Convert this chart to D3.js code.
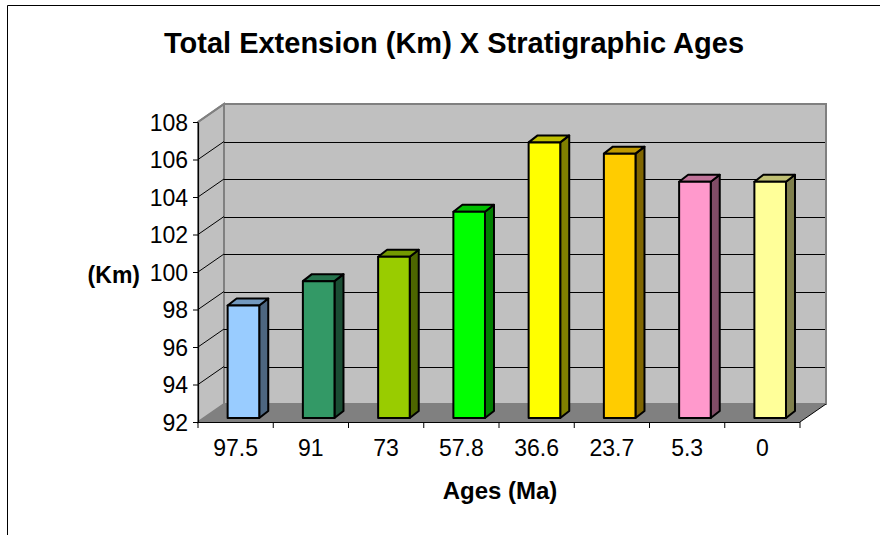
<!DOCTYPE html>
<html>
<head>
<meta charset="utf-8">
<script src="https://cdn.jsdelivr.net/npm/d3@7"></script>
<style>
  html, body { margin: 0; padding: 0; background: #fff; }
  svg { display: block; font-family: "Liberation Sans", Arial, sans-serif; }
</style>
</head>
<body>
<svg id="chart" width="880" height="535"></svg>
<script>
// Ages (Ma) along the category axis and the total extension (Km) for each
const ages = ["97.5", "91", "73", "57.8", "36.6", "23.7", "5.3", "0"];
const extensionKm = [98.0, 99.3, 100.6, 103.0, 106.7, 106.1, 104.6, 104.6];
const barColors = ["#99ccff", "#339966", "#99cc00", "#00ff00", "#ffff00", "#ffcc00", "#ff99cc", "#ffff99"];
const yTicks = [92, 94, 96, 98, 100, 102, 104, 106, 108];

const svg = d3.select("#chart");

// outer frame
svg.append("path")
  .attr("d", "M7.5,540 L7.5,5.5 L885,5.5")
  .attr("fill", "none").attr("stroke", "#000").attr("stroke-width", 1);

// front plane of the 3D box
const x0 = 198, x1 = 800;
const y = d3.scaleLinear().domain([92, 108]).range([422, 122]);
const x = d3.scaleBand().domain(ages).range([x0, x1]).padding(0);
const depth = { dx: 26, dy: -18 };    // front -> back wall
const barPlane = { dx: 5.7, dy: -4 }; // front face of bars
const barDepth = { dx: 9, dy: -7 };

const g = svg.append("g");
const yb = y(92);

// side wall
g.append("polygon")
  .attr("points", [[x0, y(108)], [x0 + depth.dx, y(108) + depth.dy], [x0 + depth.dx, yb + depth.dy], [x0, yb]].join(" "))
  .attr("fill", "#c0c0c0").attr("stroke", "#808080").attr("stroke-width", 2);

// back wall
g.append("rect")
  .attr("x", x0 + depth.dx).attr("y", y(108) + depth.dy)
  .attr("width", x1 - x0).attr("height", y(92) - y(108))
  .attr("fill", "#c0c0c0").attr("stroke", "#808080").attr("stroke-width", 2);

// gridlines on back wall and side wall
const grid = yTicks.filter(t => t > 92 && t < 108);
g.selectAll("line.grid").data(grid).join("line")
  .attr("class", "grid")
  .attr("x1", x0 + depth.dx).attr("x2", x1 + depth.dx)
  .attr("y1", d => Math.round(y(d) + depth.dy) + 0.5).attr("y2", d => Math.round(y(d) + depth.dy) + 0.5)
  .attr("stroke", "#000").attr("stroke-width", 1);
g.selectAll("line.sgrid").data(yTicks.filter(t => t > 92)).join("line")
  .attr("class", "sgrid")
  .attr("x1", x0).attr("x2", x0 + depth.dx)
  .attr("y1", d => y(d)).attr("y2", d => y(d) + depth.dy)
  .attr("stroke", d => d === 108 ? "#808080" : "#000").attr("stroke-width", d => d === 108 ? 2 : 1);

// floor
g.append("polygon")
  .attr("points", [[x0, yb], [x1, yb], [x1 + depth.dx, yb + depth.dy], [x0 + depth.dx, yb + depth.dy]].join(" "))
  .attr("fill", "#808080");
g.append("line")
  .attr("x1", x1).attr("y1", yb).attr("x2", x1 + depth.dx).attr("y2", yb + depth.dy)
  .attr("stroke", "#000").attr("stroke-width", 1);
g.append("line")
  .attr("x1", x1 + depth.dx).attr("y1", yb + depth.dy).attr("x2", x1 + depth.dx).attr("y2", y(108) + depth.dy)
  .attr("stroke", "#808080").attr("stroke-width", 2);

// bars
const step = x.step();
const bars = g.selectAll("g.bar").data(ages.map((a, i) => ({ age: a, v: extensionKm[i], c: barColors[i] })))
  .join("g").attr("class", "bar");
bars.each(function (d) {
  const sel = d3.select(this);
  const L = x(d.age) + step * 0.318 + barPlane.dx;
  const R = L + step * 0.42;
  const B = y(92) + barPlane.dy;
  const T = y(d.v) + barPlane.dy;
  const c = d3.color(d.c);
  const side = d3.rgb(c.r * 0.5, c.g * 0.5, c.b * 0.5);
  const top = d3.rgb(c.r * 0.75, c.g * 0.75, c.b * 0.75);
  const common = s => s.attr("stroke", "#000").attr("stroke-width", 2).attr("stroke-linejoin", "round");
  common(sel.append("polygon")
    .attr("points", [[R, B], [R + barDepth.dx, B + barDepth.dy], [R + barDepth.dx, T + barDepth.dy], [R, T]].join(" "))
    .attr("fill", side));
  common(sel.append("polygon")
    .attr("points", [[L, T], [R, T], [R + barDepth.dx, T + barDepth.dy], [L + barDepth.dx, T + barDepth.dy]].join(" "))
    .attr("fill", top));
  common(sel.append("rect")
    .attr("x", L).attr("y", T).attr("width", R - L).attr("height", B - T)
    .attr("fill", c));
});

// value axis
const yAxis = d3.axisLeft(y).tickValues(yTicks).tickSize(5).tickSizeOuter(0).tickPadding(5);
const ya = svg.append("g").attr("transform", `translate(${x0},0)`).call(yAxis);
ya.select(".domain").attr("stroke", "#000").attr("stroke-width", 1.2);
ya.selectAll(".tick line").attr("stroke", "#000");
ya.selectAll(".tick text")
  .attr("font-size", 23).attr("fill", "#000").attr("font-family", "Liberation Sans, Arial, sans-serif")
  .attr("dy", "0.36em");

// category axis
const xAxis = d3.axisBottom(x).tickSize(0).tickPadding(0);
const xa = svg.append("g").attr("transform", `translate(0,${yb})`).call(xAxis);
xa.select(".domain").remove();
xa.append("line").attr("x1", x0).attr("x2", x1).attr("y1", 0.5).attr("y2", 0.5).attr("stroke", "#000").attr("stroke-width", 1.2);
xa.selectAll("line.sep").data(d3.range(ages.length + 1)).join("line")
  .attr("class", "sep")
  .attr("x1", i => x0 + i * step).attr("x2", i => x0 + i * step)
  .attr("y1", 0).attr("y2", 6).attr("stroke", "#000");
xa.selectAll(".tick text")
  .attr("font-size", 23).attr("fill", "#000").attr("font-family", "Liberation Sans, Arial, sans-serif")
  .attr("y", 34).attr("dy", 0);

// titles
svg.append("text").attr("x", 454).attr("y", 53).attr("text-anchor", "middle")
  .attr("font-size", 29).attr("font-weight", "bold").text("Total Extension (Km) X Stratigraphic Ages");
svg.append("text").attr("x", 500).attr("y", 499).attr("text-anchor", "middle")
  .attr("font-size", 24).attr("font-weight", "bold").text("Ages (Ma)");
svg.append("text").attr("x", 140).attr("y", 283).attr("text-anchor", "end")
  .attr("font-size", 23).attr("font-weight", "bold").text("(Km)");
</script>
</body>
</html>
